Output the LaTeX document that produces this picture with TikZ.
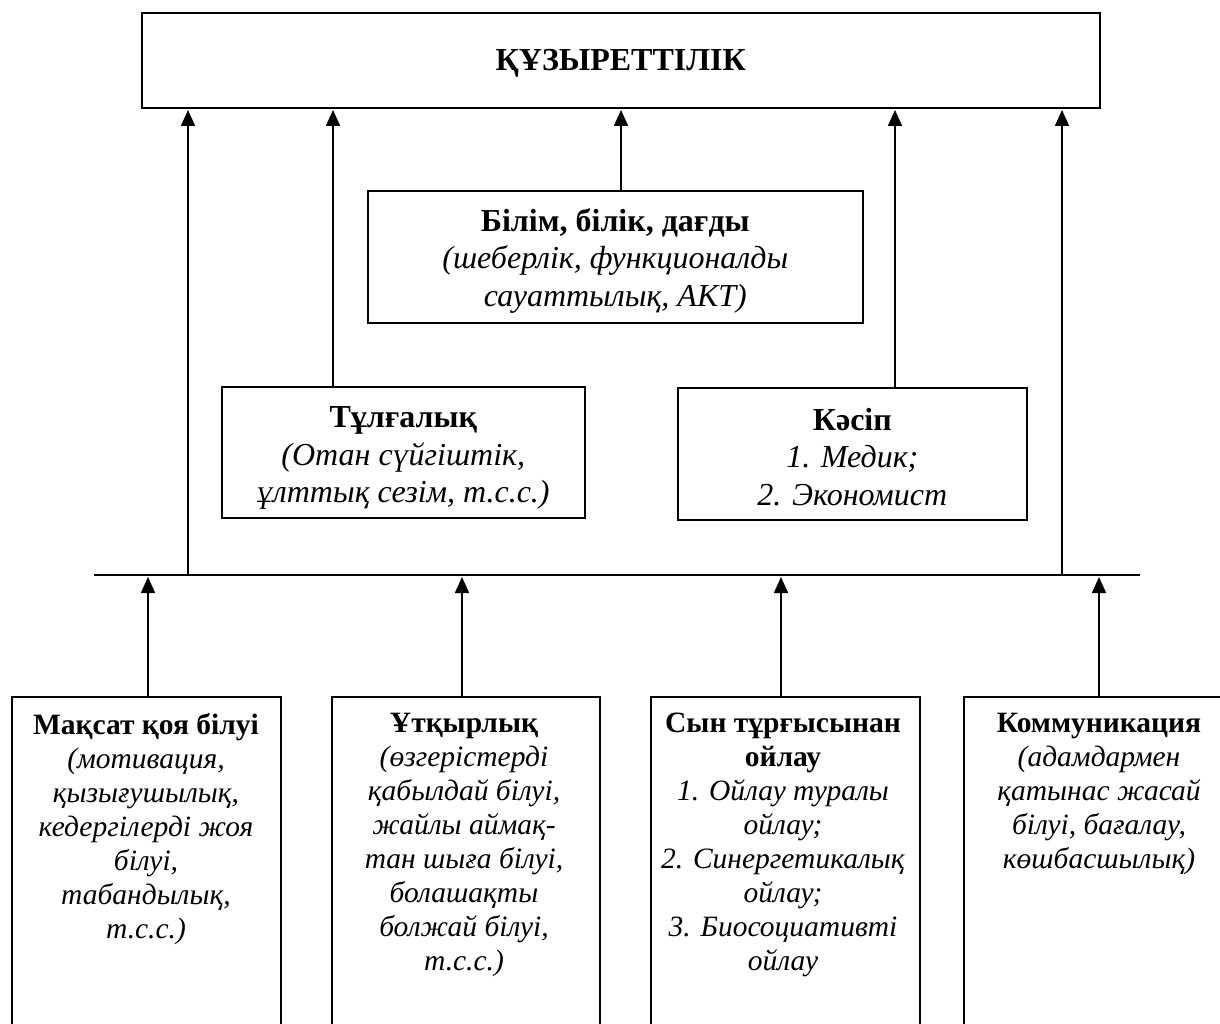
\documentclass[tikz,border=0pt]{standalone}
\usepackage{fontspec}
\setmainfont{Liberation Serif}
\usetikzlibrary{arrows.meta}
\begin{document}
\begin{tikzpicture}[x=1pt,y=-1pt,
  box/.style={draw, line width=1.6pt, inner sep=0pt, anchor=north west},
  conn/.style={line width=1.6pt},
  arr/.style={conn, -{Triangle[length=16pt,width=14pt]}},
  txt/.style={align=center, inner sep=0pt, font=\fontsize{32}{37.5}\selectfont},
  btxt/.style={align=center, inner sep=0pt, anchor=north, font=\fontsize{29.5}{34}\selectfont}]
\useasboundingbox (0,0) rectangle (1220,1024);

% top: competence
\node[box, minimum width=958pt, minimum height=95pt] (top) at (141,12) {};
\node[txt, yshift=-3pt] (title) at (top.center) {\textbf{ҚҰЗЫРЕТТІЛІК}};

% middle level
\node[box, minimum width=495pt, minimum height=132pt] (know) at (367,190) {};
\node[txt, yshift=-4pt] (knowt) at (know.center) {\textbf{Білім, білік, дағды}\\\textit{(шеберлік, функционалды}\\\textit{сауаттылық, АКТ)}};

\node[box, minimum width=363pt, minimum height=131pt] (pers) at (221,386) {};
\node[txt, yshift=-6pt] (perst) at (pers.center) {\textbf{Тұлғалық}\\\textit{(Отан сүйгіштік,}\\\textit{ұлттық сезім, т.с.с.)}};

\node[box, minimum width=349pt, minimum height=132pt] (prof) at (677,387) {};
\node[txt, yshift=-3pt] (proft) at (prof.center) {\textbf{Кәсіп}\\\textit{1. Медик;}\\\textit{2. Экономист}};

% bottom level (boxes run past the lower edge)
\node[box, minimum width=269pt, minimum height=360pt] (b1) at (11,696) {};
\node[box, minimum width=268pt, minimum height=360pt] (b2) at (331,696) {};
\node[box, minimum width=269pt, minimum height=360pt] (b3) at (650,696) {};
\node[box, minimum width=272pt, minimum height=360pt] (b4) at (963,696) {};

\node[btxt] (b1t) at (146,713) {\textbf{Мақсат қоя білуі}\\\textit{(мотивация,}\\\textit{қызығушылық,}\\\textit{кедергілерді жоя}\\\textit{білуі,}\\\textit{табандылық,}\\\textit{т.с.с.)}};
\node[btxt] (b2t) at (464,713) {\textbf{Ұтқырлық}\\\textit{(өзгерістерді}\\\textit{қабылдай білуі,}\\\textit{жайлы аймақ-}\\\textit{тан шыға білуі,}\\\textit{болашақты}\\\textit{болжай білуі,}\\\textit{т.с.с.)}};
\node[btxt] (b3t) at (783,713) {\textbf{Сын тұрғысынан}\\\textbf{ойлау}\\\textit{1. Ойлау туралы}\\\textit{ойлау;}\\\textit{2. Синергетикалық}\\\textit{ойлау;}\\\textit{3. Биосоциативті}\\\textit{ойлау}};
\node[btxt] (b4t) at (1099,713) {\textbf{Коммуникация}\\\textit{(адамдармен}\\\textit{қатынас жасай}\\\textit{білуі, бағалау,}\\\textit{көшбасшылық)}};

% collecting line
\coordinate (busL) at (94,575);
\coordinate (busR) at (1140,575);
\draw[conn] (busL) -- (busR);

% arrow tips under the top box
\coordinate (t1) at (188,110);
\coordinate (t2) at (333,110);
\coordinate (t3) at (621,110);
\coordinate (t4) at (895,110);
\coordinate (t5) at (1062,110);

\draw[arr] (t1 |- busL) -- (t1);
\draw[arr] (t5 |- busL) -- (t5);
\draw[arr] (pers.north -| t2) -- (t2);
\draw[arr] (know.north -| t3) -- (t3);
\draw[arr] (prof.north -| t4) -- (t4);

% arrows from the bottom boxes to the collecting line
\draw[arr] (b1.north -| 148,0) -- (148,577);
\draw[arr] (b2.north -| 462,0) -- (462,577);
\draw[arr] (b3.north -| 781,0) -- (781,577);
\draw[arr] (b4.north -| 1099,0) -- (1099,577);
\end{tikzpicture}
\end{document}
